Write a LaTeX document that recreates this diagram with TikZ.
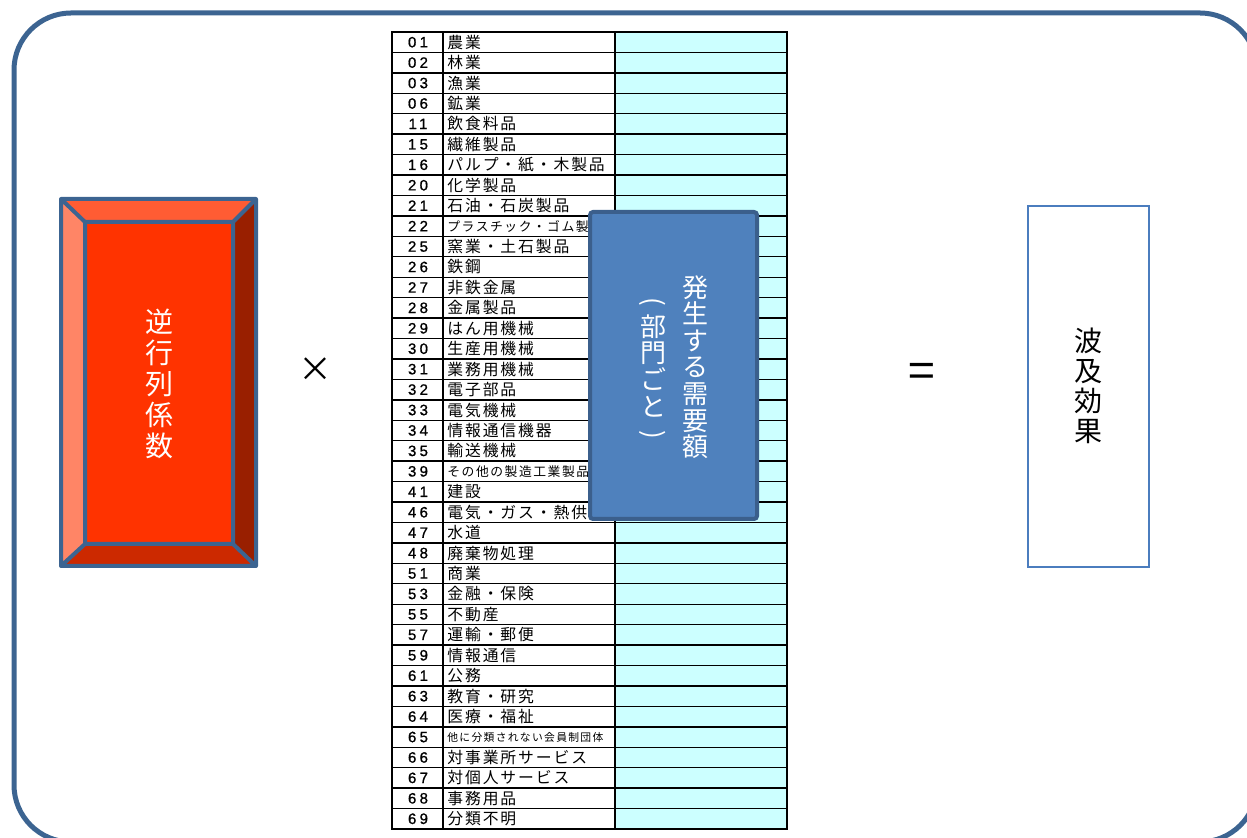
\documentclass[tikz,border=0pt]{standalone}
\usepackage{fontspec}
\setmainfont{Noto Sans CJK JP}
\newfontfamily\jpfont[LetterSpace=12]{Noto Sans CJK JP}
\newfontfamily\numfont[LetterSpace=22,FakeBold=1]{Liberation Sans}
\definecolor{frameblue}{RGB}{60,100,145}
\definecolor{boxblue}{RGB}{79,129,189}
\definecolor{boxedge}{RGB}{59,95,140}
\definecolor{cellcyan}{RGB}{204,255,255}
\definecolor{redface}{RGB}{255,51,0}
\definecolor{redtop}{RGB}{255,92,51}
\definecolor{redleft}{RGB}{255,133,102}
\definecolor{redright}{RGB}{153,31,0}
\definecolor{redbottom}{RGB}{204,41,0}
\definecolor{lightedge}{RGB}{75,125,190}
\newcommand{\narrowrow}{\fontsize{6.4}{7}\selectfont}
\newcommand{\tinyrow}{\fontsize{5.4}{6}\selectfont}
\tikzset{
  cellnum/.style={font=\numfont\fontsize{7.5}{8}\selectfont, inner sep=0pt},
  cellname/.style={font=\jpfont\fontsize{7.9}{9}\selectfont, anchor=west, inner sep=0pt},
  vlabel/.style={align=center, inner sep=0pt}
}

\begin{document}
\begin{tikzpicture}[x=0.5pt, y=-0.5pt]
		\useasboundingbox (0,0) rectangle (1247,838);
		\draw[frameblue, line width=2.5pt, rounded corners=28.5pt] (14,13) rectangle (1257,842);
		% table
		\fill[cellcyan] (615,32) rectangle (787,829);
		\foreach \num/\name [count=\i from 0] in {01/農業, 02/林業, 03/漁業, 06/鉱業, 11/飲食料品, 15/繊維製品,
			16/パルプ・紙・木製品, 20/化学製品, 21/石油・石炭製品, 22/{\narrowrow プラスチック・ゴム製品},
			25/窯業・土石製品, 26/鉄鋼, 27/非鉄金属, 28/金属製品, 29/はん用機械, 30/生産用機械,
			31/業務用機械, 32/電子部品, 33/電気機械, 34/情報通信機器, 35/輸送機械,
			39/{\narrowrow その他の製造工業製品}, 41/建設, 46/電気・ガス・熱供給, 47/水道, 48/廃棄物処理,
			51/商業, 53/金融・保険, 55/不動産, 57/運輸・郵便, 59/情報通信, 61/公務, 63/教育・研究,
			64/医療・福祉, 65/{\tinyrow 他に分類されない会員制団体}, 66/対事業所サービス, 67/対個人サービス,
			68/事務用品, 69/分類不明} {
			\node[cellnum] (n\num) at (418,{42.2+\i*20.436}) {\num};
			\node[cellname] (s\num) at (447,{42.2+\i*20.436}) {\name};
		}
		\foreach \i in {1,...,38}
			\draw[line width=0.7pt] (392,{32+\i*20.436}) -- (787,{32+\i*20.436});
		\draw[line width=0.7pt] (443,32) -- (443,829);
		\draw[line width=0.7pt] (615,32) -- (615,829);
		\draw[line width=1pt] (392,32) rectangle (787,829);
		% demand box
		\draw[boxedge, line width=2pt, fill=boxblue, rounded corners=1.5pt] (590,212) rectangle (757,519);
		\node[vlabel, text=white, font=\fontsize{13}{13.3}\selectfont] (demand) at (695,367) {発\\生\\す\\る\\需\\要\\額};
		\node[vlabel, text=white, font=\fontsize{13}{13.3}\selectfont] (sector) at (653,370)
			{\rotatebox[origin=c]{-90}{(}\\部\\門\\ご\\と\\\rotatebox[origin=c]{-90}{)}};
		% inverse matrix box
		\coordinate (a1) at (61,199);
		\coordinate (a2) at (256,199);
		\coordinate (a3) at (256,566);
		\coordinate (a4) at (61,566);
		\coordinate (b1) at (85,222);
		\coordinate (b2) at (233,222);
		\coordinate (b3) at (233,544);
		\coordinate (b4) at (85,544);
		\fill[redtop] (a1) -- (a2) -- (b2) -- (b1) -- cycle;
		\fill[redleft] (a1) -- (b1) -- (b4) -- (a4) -- cycle;
		\fill[redright] (a2) -- (a3) -- (b3) -- (b2) -- cycle;
		\fill[redbottom] (a4) -- (a3) -- (b3) -- (b4) -- cycle;
		\fill[redface] (b1) rectangle (b3);
		\draw[frameblue, line width=2pt, line join=round] (a1) rectangle (a3) (b1) rectangle (b3)
			(a1) -- (b1) (a2) -- (b2) (a3) -- (b3) (a4) -- (b4);
		\node[vlabel, text=white, font=\fontsize{14}{15.5}\selectfont] (inverse) at (159,384) {逆\\行\\列\\係\\数};
		% operators
		\node[font=\fontsize{17}{20}\selectfont] (times) at (315,370) {×};
		\node[font=\fontsize{24}{26}\selectfont] (equals) at (922,376) {=};
		% result box
		\draw[lightedge, line width=1pt] (1028,206) rectangle (1149,567);
		\node[vlabel, font=\fontsize{14}{15}\selectfont] (effect) at (1088,386) {波\\及\\効\\果};
	\end{tikzpicture}
\end{document}
